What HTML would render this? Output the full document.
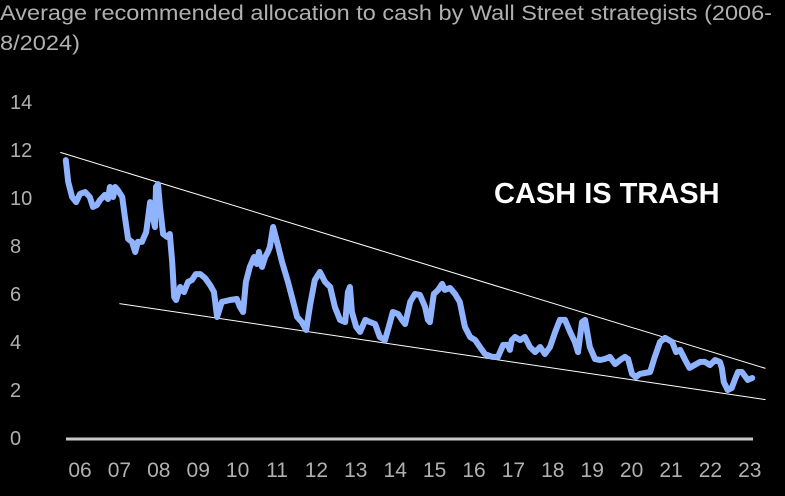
<!DOCTYPE html>
<html><head><meta charset="utf-8"><style>
body{margin:0;background:#000;width:785px;height:491px;overflow:hidden;font-family:"Liberation Sans",sans-serif}
</style></head><body>
<svg id="chart" width="785" height="491" xmlns="http://www.w3.org/2000/svg">
<text x="0" y="20" fill="#b0b0b0" font-size="21" textLength="772" lengthAdjust="spacingAndGlyphs" font-family="Liberation Sans, sans-serif">Average recommended allocation to cash by Wall Street strategists (2006-</text>
<text x="0" y="50" fill="#b0b0b0" font-size="21" textLength="80" lengthAdjust="spacingAndGlyphs" font-family="Liberation Sans, sans-serif">8/2024)</text>
<text x="494" y="203" fill="#fff" font-size="29" font-weight="bold" font-family="Liberation Sans, sans-serif">CASH IS TRASH</text>
<g id="yticks"></g><g id="xticks"></g><g id="marks"></g>
</svg>
<script>
const yTicks=[0,2,4,6,8,10,12,14];
const xTickLabels=["06","07","08","09","10","11","12","13","14","15","16","17","18","19","20","21","22","23"];
const years=[5.64,5.70,5.80,5.90,6.00,6.13,6.25,6.33,6.43,6.51,6.63,6.71,6.76,6.84,6.89,6.96,7.07,7.14,7.22,7.32,7.40,7.47,7.57,7.68,7.78,7.85,7.90,7.93,7.98,8.03,8.11,8.21,8.28,8.34,8.39,8.44,8.54,8.64,8.74,8.84,8.94,9.05,9.17,9.30,9.40,9.48,9.60,9.81,9.98,10.06,10.14,10.21,10.31,10.42,10.49,10.54,10.62,10.70,10.77,10.82,10.90,11.00,11.13,11.28,11.41,11.51,11.63,11.74,11.84,11.96,12.09,12.22,12.35,12.47,12.60,12.73,12.80,12.85,12.90,13.01,13.11,13.24,13.36,13.49,13.61,13.74,13.87,13.94,14.07,14.17,14.25,14.38,14.50,14.63,14.76,14.83,14.88,14.98,15.09,15.19,15.26,15.39,15.52,15.64,15.77,15.90,16.03,16.15,16.28,16.46,16.61,16.66,16.74,16.86,16.91,16.96,17.04,17.17,17.29,17.42,17.55,17.68,17.80,17.93,18.06,18.18,18.31,18.44,18.56,18.64,18.74,18.82,18.94,19.07,19.20,19.32,19.45,19.58,19.71,19.83,19.91,20.01,20.11,20.21,20.47,20.59,20.72,20.85,21.03,21.13,21.23,21.36,21.47,21.60,21.74,21.86,21.99,22.12,22.24,22.29,22.34,22.44,22.54,22.62,22.70,22.80,22.95,23.06];
const cashValues=[11.58,10.67,10.04,9.83,10.17,10.25,10.04,9.63,9.71,9.92,10.13,9.96,10.46,10.04,10.46,10.33,10.04,9.21,8.29,8.17,7.75,8.17,8.17,8.58,9.83,9.21,8.79,10.46,10.58,9.63,8.50,8.38,8.50,7.33,5.88,5.75,6.29,6.08,6.50,6.58,6.83,6.83,6.67,6.38,6.08,5.04,5.67,5.75,5.79,5.46,5.25,6.50,7.13,7.54,7.25,7.75,7.13,7.54,7.75,7.96,8.79,8.17,7.33,6.50,5.67,5.04,4.83,4.50,5.54,6.58,6.92,6.50,6.29,5.46,4.92,4.83,6.08,6.29,5.25,4.63,4.42,4.92,4.83,4.75,4.21,4.08,4.83,5.25,5.17,4.92,4.75,5.67,6.00,5.96,5.46,4.92,4.83,6.00,6.17,6.42,6.17,6.25,6.00,5.67,4.63,4.21,4.08,3.79,3.50,3.38,3.38,3.58,3.88,3.88,3.67,4.08,4.21,4.08,4.21,3.79,3.58,3.79,3.50,3.79,4.42,4.92,4.92,4.42,4.00,3.58,4.83,4.92,3.79,3.29,3.25,3.29,3.38,3.08,3.25,3.38,3.29,2.67,2.54,2.67,2.75,3.38,4.00,4.17,4.00,3.58,3.67,3.25,2.92,3.04,3.17,3.17,3.04,3.25,3.17,2.92,2.33,2.00,2.08,2.42,2.75,2.75,2.42,2.50];
const upperTrendYears=[5.5,23.4];
const upperTrendValues=[11.9,2.9];
const lowerTrendYears=[7.0,23.4];
const lowerTrendValues=[5.6,1.6];
const NS="http://www.w3.org/2000/svg";
function xs(yr){return 80+(yr-6)*39.4;}
function ys(v){return 438-v*24;}
function mk(tag,attrs,parent){const e=document.createElementNS(NS,tag);for(const k in attrs)e.setAttribute(k,attrs[k]);parent.appendChild(e);return e;}
const yg=document.getElementById('yticks'),xg=document.getElementById('xticks'),mg=document.getElementById('marks');
yTicks.forEach(v=>{const t=mk('text',{x:10,y:ys(v)+7,fill:'#b0b0b0','font-size':20,'font-family':'Liberation Sans, sans-serif'},yg);


t.textContent=v;});
xTickLabels.forEach((l,i)=>{const t=mk('text',{x:xs(6+i),y:477,fill:'#b0b0b0','font-size':21,'text-anchor':'middle','font-family':'Liberation Sans, sans-serif'},xg);


t.textContent=l;});
const base=mk('line',{x1:66,x2:753,y1:ys(0)+1,y2:ys(0)+1,stroke:'#c8c8c8','stroke-width':3},mg);


const up=mk('line',{x1:xs(upperTrendYears[0]),y1:ys(upperTrendValues[0]),x2:xs(upperTrendYears[1]),y2:ys(upperTrendValues[1]),stroke:'#fff','stroke-width':1},mg);


const lo=mk('line',{x1:xs(lowerTrendYears[0]),y1:ys(lowerTrendValues[0]),x2:xs(lowerTrendYears[1]),y2:ys(lowerTrendValues[1]),stroke:'#fff','stroke-width':1},mg);


const d=years.map((yr,i)=>(i?'L':'M')+xs(yr).toFixed(1)+','+ys(cashValues[i]).toFixed(1)).join(' ');
const p=mk('path',{d:d,fill:'none',stroke:'#8fb3ff','stroke-width':6,'stroke-linejoin':'round','stroke-linecap':'round'},mg);


</script>
</body></html>
